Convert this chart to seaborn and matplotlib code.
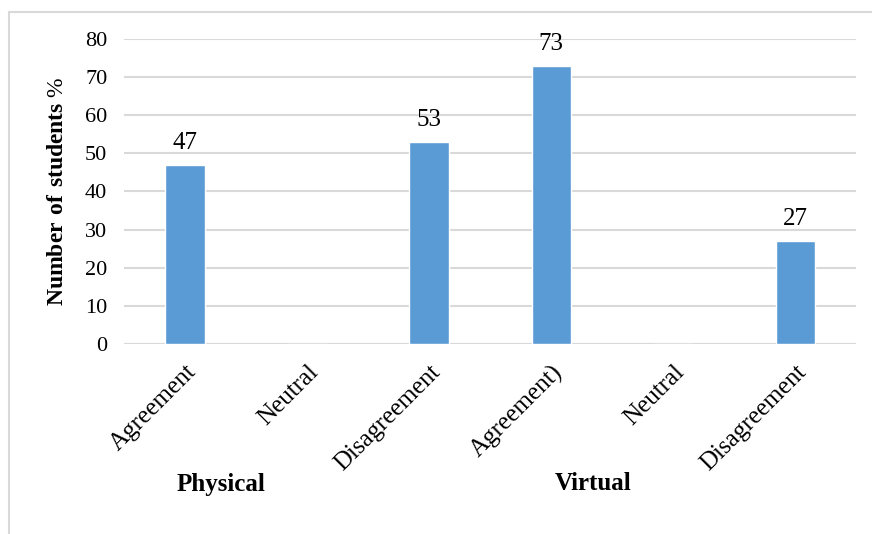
import matplotlib
matplotlib.use("Agg")
import matplotlib.pyplot as plt
from matplotlib.patches import Rectangle
import seaborn as sns
import pandas as pd

# Survey responses (% of students) per learning mode
groups = ["Physical", "Physical", "Physical", "Virtual", "Virtual", "Virtual"]
tick_labels = ["Agreement", "Neutral", "Disagreement", "Agreement)", "Neutral", "Disagreement"]
values = [47, 0, 53, 73, 0, 27]
group_names = ["Physical", "Virtual"]

df = pd.DataFrame({"slot": list(range(len(values))), "group": groups, "value": values})

sns.set_theme(style="white")
plt.rcParams["font.family"] = ["Liberation Serif", "DejaVu Serif"]
plt.rcParams["mathtext.fontset"] = "custom"
plt.rcParams["mathtext.rm"] = "Liberation Serif"
plt.rcParams["mathtext.bf"] = "Liberation Serif:bold"
for key in ["text.color", "axes.labelcolor", "xtick.color", "ytick.color"]:
    plt.rcParams[key] = "black"

fig = plt.figure(figsize=(8.72, 5.34), dpi=100)
ax = fig.add_axes([0.1422, 0.3558, 0.8395, 0.5712])

bar_color = "#5B9BD5"
grid_color = "#D9D9D9"

sns.barplot(data=df, x="slot", y="value", order=list(range(len(values))),
            color=bar_color, saturation=1, width=0.32, ax=ax)

ax.set_ylim(0, 80)
ax.set_xlim(-0.5, len(values) - 0.5)
ax.set_yticks(range(0, 81, 10))
ax.yaxis.grid(True, color=grid_color, linewidth=1.5)
ax.set_axisbelow(True)
for side in ["top", "right", "left", "bottom"]:
    ax.spines[side].set_visible(False)
ax.axhline(0, color=grid_color, linewidth=1.5, zorder=0.5)
ax.tick_params(axis="both", length=0, labelsize=16)
ax.tick_params(axis="y", pad=12)

ax.set_xticks(range(len(values)))
ax.set_xticklabels(tick_labels, rotation=45, ha="right", va="top",
                   rotation_mode="anchor", fontsize=18)
ax.tick_params(axis="x", pad=12)
ax.set_xlabel("")
ax.set_ylabel(r"$\mathbf{Number\ of\ students}$ %", fontsize=17, labelpad=12)

# value labels above non-empty bars
for patch, v in zip(ax.patches, values):
    if v > 0:
        ax.annotate(f"{v}", (patch.get_x() + patch.get_width() / 2, v),
                    xytext=(0, 8), textcoords="offset points",
                    ha="center", va="bottom", fontsize=18)

# group captions below the category labels
for name, xf in zip(group_names, [221 / 872, 593 / 872]):
    fig.text(xf, 1 - 484 / 534, name, ha="center", va="center",
             fontsize=18, fontweight="bold")

# light frame around the chart area
fig.patches.append(Rectangle((9 / 872, -0.2), 1.2, 1 - 12 / 534 + 0.2,
                             transform=fig.transFigure, fill=False,
                             edgecolor=grid_color, linewidth=1.5))

fig.savefig("out.png", dpi=100, facecolor="white")
